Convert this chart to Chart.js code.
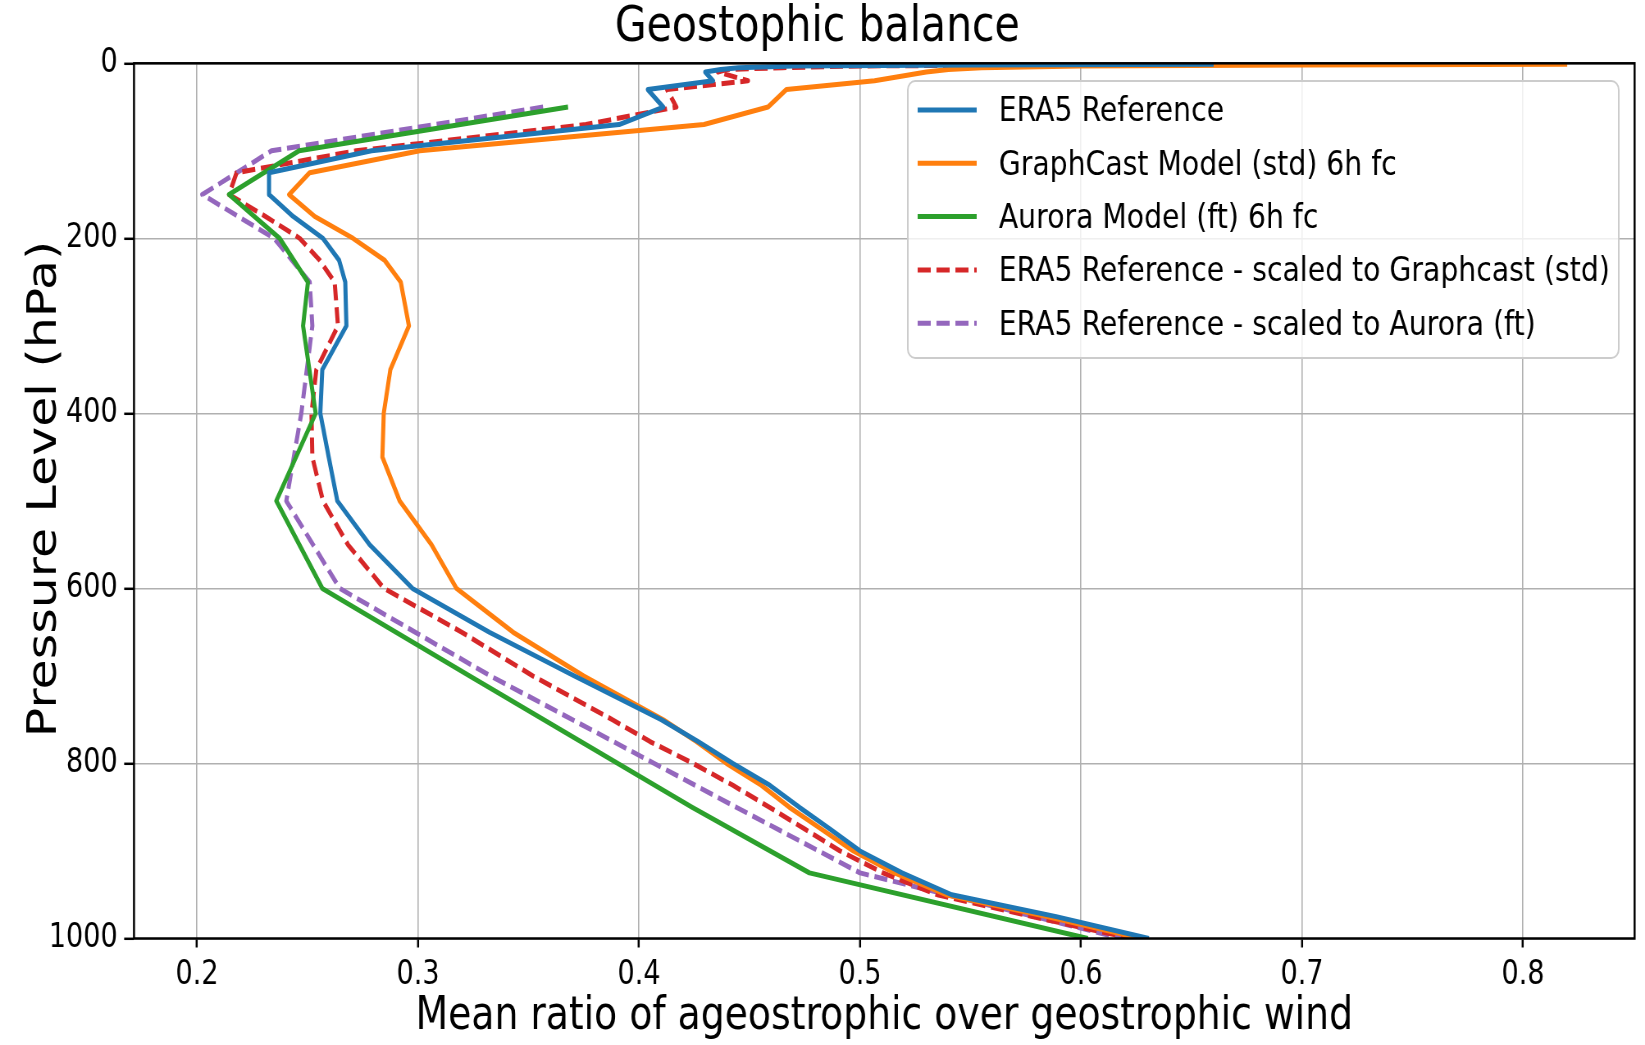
<!DOCTYPE html>
<html>
<head>
<meta charset="utf-8">
<title>Geostophic balance</title>
<script src="https://cdn.jsdelivr.net/npm/chart.js@4.4.1/dist/chart.umd.min.js"></script>
<style>
  html, body { margin: 0; padding: 0; overflow: hidden; background: #fff; }
  /* the reference figure is squeezed horizontally, so draw wide and scale it down */
  #wrap { width: 2006px; height: 1045px; transform: scaleX(0.82004); transform-origin: 0 0; }
</style>
</head>
<body>
<div id="wrap"><canvas id="myChart"></canvas></div>
<script>
// pressure levels (hPa)
const levels37 = [1, 2, 3, 5, 7, 10, 20, 30, 50, 70, 100, 125, 150, 175, 200, 225, 250, 300, 350, 400, 450, 500,
    550, 600, 650, 700, 750, 775, 800, 825, 850, 875, 900, 925, 950, 975, 1000];
const levels13 = [50, 100, 150, 200, 250, 300, 400, 500, 600, 700, 850, 925, 1000];

const era5 = [0.66, 0.55, 0.47, 0.445, 0.437, 0.430, 0.4335, 0.404, 0.411, 0.391, 0.279, 0.2326, 0.2326, 0.2435,
    0.257, 0.2643, 0.2671, 0.2676, 0.2567, 0.2558, 0.2596, 0.2635, 0.2781, 0.2975, 0.3323, 0.3708, 0.4101, 0.4267,
    0.4425, 0.4592, 0.4725, 0.4865, 0.500, 0.519, 0.5415, 0.5888, 0.6307];
const graphcast = [0.82, 0.70, 0.60, 0.555, 0.54, 0.530, 0.5066, 0.4667, 0.4584, 0.4294, 0.3008, 0.2510, 0.2417,
    0.2533, 0.2706, 0.2849, 0.2922, 0.2959, 0.2875, 0.2845, 0.2839, 0.2917, 0.3061, 0.3174, 0.343, 0.375, 0.411,
    0.426, 0.4396, 0.4554, 0.468, 0.4825, 0.497, 0.5156, 0.539, 0.5846, 0.6272];
const era5ScaledGc = [0.663, 0.58, 0.50, 0.465, 0.44, 0.4357, 0.4493, 0.4127, 0.4169, 0.376, 0.272, 0.2179, 0.2145,
    0.231, 0.2465, 0.2555, 0.2623, 0.2638, 0.2540, 0.2518, 0.2522, 0.2570, 0.2683, 0.2846, 0.3198, 0.352, 0.388,
    0.405, 0.4245, 0.4425, 0.459, 0.475, 0.491, 0.5104, 0.535, 0.578, 0.6229];
const aurora = [0.3679, 0.2462, 0.2145, 0.2374, 0.2502, 0.2480, 0.2537, 0.2359, 0.2567, 0.3234, 0.424, 0.4771, 0.6031];
const era5ScaledAurora = [0.3566, 0.2337, 0.2024, 0.2349, 0.2510, 0.2522, 0.2472, 0.2404, 0.2646, 0.3328, 0.444,
    0.500, 0.6186];

const xTicks = [0.2, 0.3, 0.4, 0.5, 0.6, 0.7, 0.8];
const yTicks = [0, 200, 400, 600, 800, 1000];

const toPoints = (xs, ys) => xs.map((v, i) => ({ x: v, y: ys[i] }));

Chart.defaults.font.family = "'DejaVu Sans', sans-serif";
Chart.defaults.color = '#000';

const DASH = [16, 7];
const Y_LABEL = 'Pressure Level (hPa)';

// top/right spines like matplotlib, plus the y axis label
const framePlugin = {
    id: 'frame',
    afterDatasetsDraw(chart) {
        const { ctx, chartArea: a } = chart;
        ctx.save();
        ctx.strokeStyle = '#000';
        ctx.lineWidth = 2.5;
        ctx.strokeRect(a.left, a.top, a.right - a.left, a.bottom - a.top);
        ctx.restore();

        ctx.save();
        ctx.translate(67.8, 489);
        ctx.rotate(-Math.PI / 2);
        ctx.font = "49px 'DejaVu Sans'";
        ctx.fillStyle = '#000';
        ctx.textAlign = 'center';
        ctx.textBaseline = 'alphabetic';
        ctx.fillText(Y_LABEL, 0, 0);
        ctx.restore();
    }
};

// legend box inside the axes, upper right
const legendPlugin = {
    id: 'boxLegend',
    afterDraw(chart) {
        const ctx = chart.ctx;
        const left = 1107, right = 1974, top = 81, bottom = 358, r = 9;
        ctx.save();
        ctx.beginPath();
        ctx.moveTo(left + r, top);
        ctx.lineTo(right - r, top);
        ctx.arcTo(right, top, right, top + r, r);
        ctx.lineTo(right, bottom - r);
        ctx.arcTo(right, bottom, right - r, bottom, r);
        ctx.lineTo(left + r, bottom);
        ctx.arcTo(left, bottom, left, bottom - r, r);
        ctx.lineTo(left, top + r);
        ctx.arcTo(left, top, left + r, top, r);
        ctx.closePath();
        ctx.fillStyle = 'rgba(255,255,255,0.8)';
        ctx.fill();
        ctx.strokeStyle = '#cccccc';
        ctx.lineWidth = 2;
        ctx.stroke();

        ctx.font = "34.5px 'DejaVu Sans'";
        ctx.textBaseline = 'middle';
        ctx.textAlign = 'left';
        chart.data.datasets.forEach((ds, i) => {
            const y = 110 + i * 53.3;
            ctx.beginPath();
            ctx.setLineDash(ds.borderDash || []);
            ctx.strokeStyle = ds.borderColor;
            ctx.lineWidth = ds.borderWidth;
            ctx.moveTo(1119, y);
            ctx.lineTo(1191, y);
            ctx.stroke();
            ctx.setLineDash([]);
            ctx.fillStyle = '#000';
            ctx.fillText(ds.label, 1218, y + 2.5);
        });
        ctx.restore();
    }
};

const data = {
    datasets: [{
        label: 'ERA5 Reference',
        data: toPoints(era5, levels37),
        borderColor: '#1f77b4'
    }, {
        label: 'GraphCast Model (std) 6h fc',
        data: toPoints(graphcast, levels37),
        borderColor: '#ff7f0e'
    }, {
        label: 'Aurora Model (ft) 6h fc',
        data: toPoints(aurora, levels13),
        borderColor: '#2ca02c'
    }, {
        label: 'ERA5 Reference - scaled to Graphcast (std)',
        data: toPoints(era5ScaledGc, levels37),
        borderColor: '#d62728',
        borderDash: DASH
    }, {
        label: 'ERA5 Reference - scaled to Aurora (ft)',
        data: toPoints(era5ScaledAurora, levels13),
        borderColor: '#9467bd',
        borderDash: DASH
    }]
};
data.datasets.forEach(ds => {
    ds.borderWidth = 5;
    ds.pointRadius = 0;
    ds.tension = 0;
    ds.fill = false;
    ds.borderJoinStyle = 'round';
});

const config = {
    type: 'line',
    data: data,
    plugins: [framePlugin, legendPlugin],
    options: {
        responsive: true,
        maintainAspectRatio: false,
        animation: false,
        events: [],
        layout: { padding: { left: 0, right: 12.7, top: 0, bottom: 0 } },
        plugins: {
            legend: { display: false },
            tooltip: { enabled: false },
            title: {
                display: true,
                text: 'Geostophic balance',
                font: { size: 50, weight: 'normal', lineHeight: 1 },
                color: '#000',
                padding: { top: 2.7, bottom: 10.6 }
            }
        },
        scales: {
            x: {
                type: 'linear',
                position: 'bottom',
                min: 0.1715,
                max: 0.8505,
                afterBuildTicks: s => { s.ticks = xTicks.map(v => ({ value: v })); },
                afterFit: s => { s.height = 106.5; },
                ticks: {
                    font: { size: 33 },
                    color: '#000',
                    padding: 8,
                    maxRotation: 0,
                    autoSkip: false,
                    callback: v => v.toFixed(1)
                },
                grid: { color: '#b0b0b0', lineWidth: 1.6, tickColor: '#000', tickLength: 9, tickWidth: 2.5 },
                border: { display: false },
                title: {
                    display: true,
                    text: 'Mean ratio of ageostrophic over geostrophic wind',
                    font: { size: 46 },
                    color: '#000',
                    padding: { top: 0, bottom: 0 }
                }
            },
            y: {
                type: 'linear',
                position: 'left',
                reverse: true,
                min: 0,
                max: 1000,
                afterBuildTicks: s => { s.ticks = yTicks.map(v => ({ value: v })); },
                afterFit: s => { s.width = 163.4; },
                ticks: {
                    font: { size: 33 },
                    color: '#000',
                    padding: 7.8,
                    autoSkip: false,
                    callback: v => String(v)
                },
                grid: { color: '#b0b0b0', lineWidth: 1.6, tickColor: '#000', tickLength: 12, tickWidth: 2.5 },
                border: { display: false },
                title: { display: false }
            }
        }
    }
};

const myChart = new Chart(document.getElementById('myChart'), config);
</script>
</body>
</html>
